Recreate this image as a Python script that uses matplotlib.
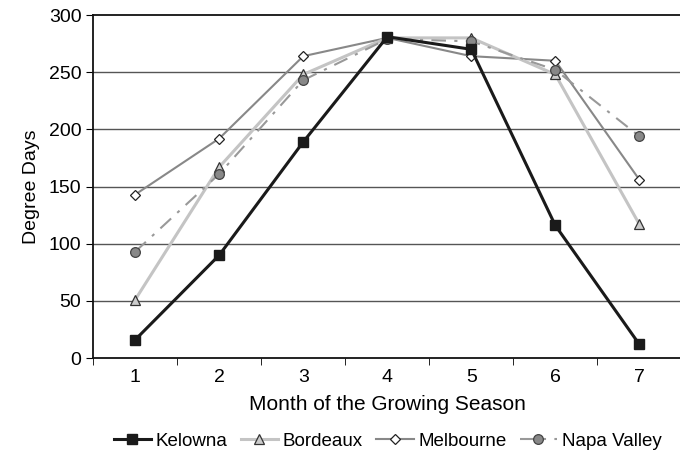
import numpy as np
import matplotlib.pyplot as plt

plt.rcParams['font.family'] = ['Liberation Sans', 'DejaVu Sans']

months = [1, 2, 3, 4, 5, 6, 7]
kelowna = [16, 90, 189, 281, 270, 116, 12]
bordeaux = [51, 167, 248, 280, 280, 248, 117]
melbourne = [143, 192, 264, 280, 264, 260, 156]
napa = [93, 161, 243, 279, 277, 252, 194]

fig = plt.figure(figsize=(6.8, 4.55), dpi=100)
ax = fig.add_axes([0.137, 0.213, 0.865, 0.754])

for y in range(50, 300, 50):
    ax.axhline(y, color='#555555', lw=1, zorder=0)

ax.plot(months, melbourne, color='#888888', lw=1.5, marker='D', ms=5,
        mfc='white', mec='#222222', mew=0.9, label='Melbourne', zorder=2)
ax.plot(months, napa, color='#999999', lw=1.5, ls=(0, (7, 4, 1.5, 4)), marker='o', ms=7,
        mfc='#888888', mec='#444444', mew=0.9, label='Napa Valley', zorder=3)
ax.plot(months, bordeaux, color='#c4c4c4', lw=2.2, marker='^', ms=7,
        mfc='#cccccc', mec='#333333', mew=0.9, label='Bordeaux', zorder=2)
ax.plot(months, kelowna, color='#1a1a1a', lw=2.2, marker='s', ms=7,
        mfc='#1a1a1a', mec='#1a1a1a', label='Kelowna', zorder=4)

ax.set_xlim(0.5, 7.5)
ax.set_ylim(0, 300)
ax.set_yticks(range(0, 301, 50))
ax.set_xticks(months)
ax.set_xticks(np.arange(0.5, 8, 1), minor=True)
ax.tick_params(axis='x', which='major', length=0, labelsize=14, pad=8)
ax.tick_params(axis='x', which='minor', length=5, direction='out')
ax.tick_params(axis='y', labelsize=14, length=5)
for s in ax.spines.values():
    s.set_linewidth(1.3)
    s.set_color('#111111')

ax.set_xlabel('Month of the Growing Season', fontsize=15, labelpad=6)
ax.set_ylabel('Degree Days', fontsize=14, labelpad=6)

handles, labels = ax.get_legend_handles_labels()
order = [labels.index(n) for n in ['Kelowna', 'Bordeaux', 'Melbourne', 'Napa Valley']]
fig.legend([handles[i] for i in order], [labels[i] for i in order],
           loc='lower center', bbox_to_anchor=(0.57, -0.025), ncol=4, frameon=False,
           fontsize=13.5, handlelength=2.0, columnspacing=0.7, handletextpad=0.25)

fig.savefig('out.png', dpi=100)
